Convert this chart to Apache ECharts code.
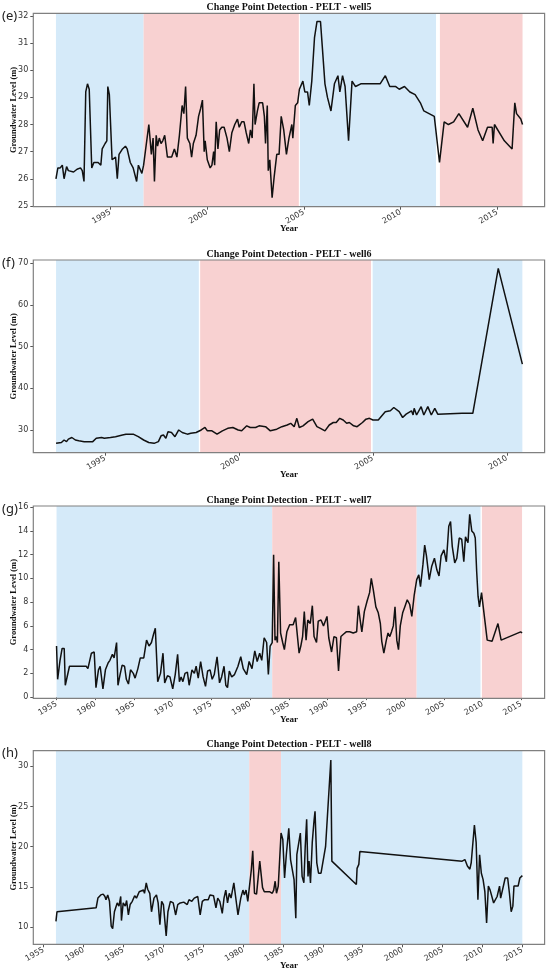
<!DOCTYPE html>
<html>
<head>
<meta charset="utf-8">
<script src="https://cdn.jsdelivr.net/npm/echarts@6/dist/echarts.min.js"></script>
<style>
  html, body { margin: 0; padding: 0; background: #fff; }
  #chart { width: 550px; height: 973px; }
</style>
</head>
<body>
<div id="chart"></div>
<script>
// groundwater level readings [decimal year, level in m]
var well5 = [[1992.19,26.0],[1992.29,26.4],[1992.41,26.4],[1992.52,26.5],[1992.61,26.0],[1992.74,26.45],[1992.83,26.3],[1993.10,26.25],[1993.28,26.35],[1993.46,26.4],[1993.55,26.3],[1993.64,25.9],[1993.73,29.2],[1993.82,29.5],[1993.91,29.3],[1994.04,26.4],[1994.15,26.6],[1994.37,26.6],[1994.51,26.5],[1994.58,27.1],[1994.73,27.3],[1994.82,27.4],[1994.87,29.4],[1994.95,29.1],[1995.09,26.7],[1995.27,26.8],[1995.36,26.0],[1995.45,26.9],[1995.63,27.1],[1995.78,27.2],[1995.87,27.1],[1996.03,26.6],[1996.18,26.4],[1996.36,25.9],[1996.45,26.5],[1996.63,26.2],[1996.72,26.5],
  [1996.99,28.0],[1997.12,26.9],[1997.21,27.5],[1997.28,25.9],[1997.37,27.6],[1997.44,27.2],[1997.53,27.5],[1997.62,27.3],[1997.71,27.4],[1997.81,27.6],[1997.95,26.8],[1998.17,26.8],[1998.31,27.1],[1998.44,26.8],[1998.57,27.6],[1998.71,28.7],[1998.80,28.4],[1998.89,29.4],[1998.98,27.5],[1999.11,27.3],[1999.20,26.8],[1999.29,27.3],[1999.43,27.6],[1999.56,28.3],[1999.67,28.6],[1999.76,28.9],[1999.85,27.0],[1999.90,27.4],[2000.01,26.7],[2000.16,26.4],[2000.25,26.5],[2000.34,27.0],[2000.39,26.5],[2000.47,28.1],[2000.56,27.1],[2000.65,27.8],[2000.76,27.9],[2000.88,27.9],[2001.03,27.5],[2001.15,27.0],[2001.28,27.7],[2001.43,28.0],[2001.57,28.2],[2001.66,27.9],[2001.79,28.1],[2001.91,28.1],[2002.02,27.7],[2002.15,27.3],[2002.24,27.8],[2002.33,27.5],[2002.42,29.5],[2002.48,28.0],[2002.60,28.5],[2002.69,28.8],[2002.87,28.8],[2002.96,28.3],[2003.02,27.3],[2003.11,28.7],[2003.16,26.3],[2003.24,26.7],[2003.36,25.3],[2003.47,26.1],[2003.60,26.9],[2003.72,26.9],[2003.83,28.3],[2003.96,27.8],[2004.10,26.9],[2004.23,27.5],[2004.38,28.0],[2004.43,27.5],[2004.56,28.7],[2004.68,28.8],
  [2004.77,29.3],[2004.86,29.3],[2004.95,29.6],[2005.05,29.2],[2005.19,29.2],[2005.28,28.7],[2005.41,29.6],[2005.55,31.2],[2005.68,31.8],[2005.86,31.8],[2005.95,30.9],[2006.09,29.5],[2006.22,29.0],[2006.40,28.5],[2006.58,29.5],[2006.76,29.8],[2006.86,29.2],[2007.00,29.8],[2007.13,29.4],[2007.31,27.4],[2007.49,29.6],[2007.67,29.4],[2007.94,29.5],[2008.30,29.5],[2008.94,29.5],[2009.21,29.8],[2009.44,29.4],[2009.75,29.4],[2009.93,29.3],[2010.20,29.4],[2010.48,29.2],[2010.75,29.1],[2011.02,28.8],[2011.20,28.5],[2011.47,28.4],[2011.74,28.3],
  [2012.01,26.6],[2012.25,28.1],[2012.47,28.0],[2012.74,28.1],[2013.01,28.4],[2013.46,27.9],[2013.73,28.6],[2014.00,27.8],[2014.24,27.4],[2014.49,27.9],[2014.73,27.9],[2014.78,27.3],[2014.85,28.0],[2015.36,27.4],[2015.76,27.1],[2015.90,28.8],[2015.99,28.4],[2016.21,28.2],[2016.30,28.0]];

var well6 = [[1993.17,26.8],[1993.37,27.0],[1993.47,27.6],[1993.56,27.2],[1993.63,27.8],[1993.69,27.4],[1993.76,28.2],[1993.89,27.6],[1994.02,27.4],[1994.22,27.2],[1994.54,27.2],[1994.67,28.0],[1994.87,28.2],[1994.97,28.0],[1995.04,28.4],[1995.20,28.2],[1995.39,28.4],[1995.65,28.8],[1995.78,29.0],[1996.05,29.0],[1996.24,28.4],[1996.44,27.6],[1996.63,27.0],[1996.83,26.8],[1996.99,27.2],[1997.09,28.6],[1997.18,28.8],[1997.27,28.0],[1997.35,29.6],[1997.48,29.4],[1997.61,28.4],[1997.75,30.0],[1997.88,29.4],[1998.07,29.0],[1998.20,29.2],[1998.40,29.4],
  [1998.59,30.0],[1998.73,30.6],[1998.82,29.8],[1998.99,29.8],[1999.18,29.0],[1999.38,29.8],[1999.58,30.4],[1999.77,30.6],[1999.97,30.0],[2000.10,29.8],[2000.29,31.0],[2000.42,30.6],[2000.62,30.6],[2000.75,31.0],[2000.99,30.8],[2001.17,29.8],[2001.41,30.2],[2001.60,30.8],[2001.80,31.2],[2001.93,31.6],[2002.06,30.8],[2002.16,32.8],[2002.25,30.6],[2002.39,31.0],[2002.58,32.0],[2002.75,32.6],[2002.91,30.8],[2003.04,30.4],[2003.21,29.8],[2003.37,31.2],[2003.52,31.8],[2003.63,31.8],[2003.76,32.8],[2003.89,32.4],[2004.02,31.6],[2004.12,31.8],[2004.28,31.0],[2004.41,30.8],[2004.61,31.8],[2004.74,32.6],[2004.87,32.8],
  [2005.00,32.4],[2005.20,32.4],[2005.46,34.4],[2005.65,34.6],[2005.78,35.4],[2005.98,34.4],[2006.11,33.0],[2006.24,33.8],[2006.44,34.6],[2006.50,33.6],[2006.54,35.2],[2006.63,33.6],[2006.80,35.6],[2006.90,33.6],[2007.05,35.6],[2007.18,33.6],[2007.31,35.2],[2007.42,33.8],[2008.33,34.0],[2008.73,34.0],[2009.68,68.8],[2010.58,45.8]];

var well7 = [[1955.00,4.3],[1955.14,1.5],[1955.45,3.1],[1955.72,4.1],[1955.99,4.1],[1956.13,1.0],[1956.26,1.0],[1956.67,2.6],[1958.83,2.6],[1959.05,2.4],[1959.50,3.7],[1959.86,3.8],[1960.09,0.8],[1960.41,2.3],[1960.63,2.6],[1960.86,2.6],[1960.99,0.7],[1961.31,2.3],[1961.67,2.9],[1961.89,3.1],[1962.21,3.6],[1962.43,3.3],[1962.75,4.6],[1962.93,1.0],[1963.20,1.9],[1963.47,2.7],[1963.78,2.6],[1964.01,1.5],[1964.28,1.1],[1964.55,2.3],[1964.91,2.0],[1965.14,1.6],[1965.50,2.4],[1965.81,3.3],[1966.26,3.3],[1966.62,4.8],[1966.94,4.3],[1967.25,4.6],[1967.52,5.3],[1967.75,5.8],[1968.06,1.3],[1968.42,2.0],[1968.74,3.7],[1968.96,1.2],[1969.32,1.8],[1969.64,1.7],[1970.00,0.7],[1970.32,1.9],[1970.63,3.6],[1970.86,1.3],[1971.08,1.7],[1971.31,1.3],[1971.58,2.0],[1971.89,2.1],[1972.12,1.0],[1972.48,2.3],[1972.79,2.0],[1973.02,2.6],[1973.29,1.6],[1973.60,3.0],[1973.92,1.7],[1974.23,0.9],[1974.50,2.2],[1974.82,2.3],[1975.09,1.5],[1975.36,1.9],[1975.72,3.4],[1976.04,1.2],[1976.31,1.7],[1976.62,2.6],[1976.85,1.0],[1977.07,0.8],[1977.30,2.2],[1977.61,1.7],[1977.97,1.9],[1978.42,2.6],[1978.78,3.4],[1979.10,2.4],[1979.55,1.9],[1979.86,3.0],[1980.23,2.4],[1980.59,3.9],[1980.90,3.0],[1981.22,3.7],[1981.49,3.1],[1981.80,5.0],[1982.12,4.6],[1982.34,1.9],[1982.57,4.3],[1982.84,4.6],
  [1983.02,12.0],[1983.20,4.8],[1983.38,5.1],[1983.51,4.6],[1983.69,11.4],[1983.92,5.4],[1984.19,4.6],[1984.41,4.0],[1984.73,5.5],[1985.09,6.1],[1985.54,6.1],[1985.86,6.7],[1986.08,6.6],[1986.31,3.7],[1986.53,4.3],[1986.76,5.1],[1986.98,7.2],[1987.21,4.8],[1987.43,6.5],[1987.75,6.2],[1988.02,7.7],[1988.24,5.1],[1988.56,4.6],[1988.78,6.4],[1989.14,6.5],[1989.46,6.0],[1989.91,6.8],[1990.14,5.0],[1990.50,3.8],[1990.81,5.1],[1991.13,5.0],[1991.40,2.2],[1991.71,5.1],[1992.03,5.3],[1992.39,5.5],[1992.84,5.5],[1993.29,5.4],[1993.74,5.5],[1993.96,7.7],[1994.19,6.5],[1994.41,5.5],[1994.73,7.2],[1995.09,8.1],[1995.41,8.8],[1995.63,10.0],[1995.90,9.0],[1996.22,7.6],[1996.53,7.1],[1996.80,6.2],[1996.98,4.7],[1997.25,3.7],[1997.57,4.8],[1997.79,5.4],[1998.02,5.1],[1998.24,5.5],[1998.47,6.0],[1998.69,7.6],[1998.92,4.8],[1999.14,4.0],[1999.37,6.0],[1999.68,7.1],[1999.95,7.6],[2000.27,8.2],[2000.59,7.8],[2000.86,6.8],[2001.17,8.6],
  [2001.49,9.9],[2001.76,10.3],[2001.98,9.3],[2002.30,11.2],[2002.52,12.8],[2002.75,11.9],[2003.11,9.9],[2003.42,11.0],[2003.78,11.7],[2004.10,10.7],[2004.37,10.2],[2004.64,11.9],[2005.00,12.4],[2005.32,11.4],[2005.63,14.4],[2005.86,14.8],[2006.08,12.7],[2006.40,11.3],[2006.67,11.7],[2006.98,13.4],[2007.30,13.3],[2007.57,11.4],[2007.79,13.5],[2008.11,13.0],[2008.33,15.4],[2008.60,14.0],[2008.87,13.8],[2009.05,13.4],[2009.23,10.6],[2009.41,8.5],[2009.59,7.6],
  [2009.86,8.8],[2010.09,8.8],[2010.59,4.8],[2011.22,4.7],[2011.98,6.2],[2012.39,4.8],[2014.91,5.5],[2015.09,5.4]];

var well8 = [[1956.54,10.7],[1956.67,11.9],[1961.58,12.4],[1961.80,13.6],[1962.16,14.0],[1962.46,14.1],[1962.68,13.8],[1962.81,13.4],[1963.03,14.0],[1963.25,13.2],[1963.47,10.1],[1963.65,9.8],[1963.87,11.9],[1964.22,13.0],[1964.44,12.6],[1964.66,13.8],[1964.75,10.8],[1964.97,13.0],[1965.23,12.6],[1965.40,13.3],[1965.62,11.5],[1965.84,12.8],[1966.11,13.2],[1966.41,13.9],[1966.63,13.6],[1966.98,14.4],[1967.20,14.2],[1967.51,14.6],[1967.64,14.2],[1967.86,15.5],[1968.04,14.7],[1968.30,14.2],[1968.52,11.9],[1968.83,13.6],[1969.14,14.0],[1969.35,13.0],[1969.57,10.3],[1969.79,13.2],[1970.01,12.8],[1970.23,13.0],[1970.36,8.9],[1970.58,11.9],[1970.89,13.2],[1971.24,13.0],[1971.55,11.5],[1971.81,12.8],[1972.12,13.0],[1972.56,13.1],[1973.00,12.8],[1973.22,13.4],[1973.57,13.2],[1973.88,13.6],[1974.10,13.4],[1974.32,13.8],[1974.62,11.5],[1974.89,13.2],[1975.19,13.4],[1975.63,13.4],[1975.85,14.0],[1976.29,13.9],[1976.60,12.4],[1976.82,13.6],[1977.08,13.2],[1977.39,11.7],[1977.61,13.6],[1977.83,14.6],[1978.05,13.0],[1978.27,14.2],[1978.49,13.6],[1978.84,15.5],[1979.06,13.8],[1979.36,11.5],[1979.71,13.6],[1979.98,14.6],[1980.15,14.0],[1980.37,14.6],[1980.59,13.2],[1980.77,13.2],
  [1981.03,17.1],[1981.21,19.5],[1981.43,14.2],[1981.69,14.1],[1981.91,14.1],[1982.09,18.2],[1982.26,18.2],[1982.44,14.9],[1982.66,14.4],[1982.96,14.4],[1983.31,14.4],[1983.66,14.2],[1983.84,14.6],[1984.02,15.7],[1984.19,14.2],[1984.41,15.1],[1984.63,15.1],
  [1984.76,21.7],[1984.98,20.9],[1985.20,16.1],[1985.42,19.0],[1985.73,22.3],[1985.95,18.4],[1986.17,18.2],[1986.39,15.9],[1986.61,11.1],[1986.74,19.0],[1987.05,20.9],[1987.18,21.7],[1987.40,16.3],[1987.62,15.5],[1987.79,20.0],[1987.97,23.4],[1988.14,16.3],[1988.27,18.2],[1988.45,15.5],[1988.67,20.5],[1988.89,23.2],[1989.02,24.4],[1989.24,18.0],[1989.46,16.7],[1989.77,16.7],[1990.34,20.0],[1991.00,30.8],[1991.13,18.2],[1994.20,15.3],[1994.29,17.3],[1994.51,17.8],[1994.64,19.4],[2007.46,18.2],[2007.81,18.4],[2008.12,17.6],[2008.43,17.2],[2008.60,18.0],[2009.00,22.7],[2009.22,20.5],[2009.44,13.4],[2009.65,19.0],[2009.87,16.7],[2010.09,15.9],[2010.31,14.4],[2010.53,10.5],[2010.75,15.1],[2010.97,14.6],[2011.41,13.0],[2011.85,13.8],[2012.15,15.1],[2012.29,13.6],[2012.51,13.8],[2012.86,16.1],[2013.17,16.1],[2013.39,14.2],[2013.61,11.9],[2013.82,12.6],[2013.96,15.1],[2014.48,15.1],[2014.70,16.1],[2015.01,16.4]];

// change point segments [start, end, segment type]
var well5Spans = [[1992.19,1996.72,'b'],[1996.72,2004.74,'r'],[2004.80,2011.83,'b'],[2012.03,2016.30,'r']];
var well6Spans = [[1993.17,1998.50,'b'],[1998.55,2004.93,'r'],[2004.99,2010.58,'b']];
var well7Spans = [[1955.00,1982.84,'b'],[1982.84,2001.49,'r'],[2001.49,2009.73,'b'],[2009.91,2015.09,'r']];
var well8Spans = [[1956.54,1980.77,'b'],[1980.77,1984.76,'r'],[1984.76,2015.01,'b']];

// tick labels
var well5XTicks = [1995, 2000, 2005, 2010, 2015];
var well6XTicks = [1995, 2000, 2005, 2010];
var longXTicks = [1955, 1960, 1965, 1970, 1975, 1980, 1985, 1990, 1995, 2000, 2005, 2010, 2015];
var well5YTicks = [25, 26, 27, 28, 29, 30, 31, 32];
var well6YTicks = [30, 40, 50, 60, 70];
var well7YTicks = [0, 2, 4, 6, 8, 10, 12, 14, 16];
var well8YTicks = [10, 15, 20, 25, 30];

var titles = ['Change Point Detection - PELT - well5', 'Change Point Detection - PELT - well6',
              'Change Point Detection - PELT - well7', 'Change Point Detection - PELT - well8'];
var panelTags = ['(e)', '(f)', '(g)', '(h)'];

var spanColors = { b: '#d5eaf9', r: '#f8d1d1' };
var serif = 'Liberation Serif, Times New Roman, serif';
var sans = 'DejaVu Sans, sans-serif';

var panels = [
    { data: well5, spans: well5Spans, xTicks: well5XTicks, yTicks: well5YTicks, x: [1991.02, 2017.44], y: [24.97, 32.1], top: 13.3, height: 193.4 },
    { data: well6, spans: well6Spans, xTicks: well6XTicks, yTicks: well6YTicks, x: [1992.32, 2011.41], y: [24.55, 70.8], top: 260, height: 192.7 },
    { data: well7, spans: well7Spans, xTicks: longXTicks, yTicks: well7YTicks, x: [1952.0, 2018.0], y: [-0.1, 16.1], top: 506, height: 192.3 },
    { data: well8, spans: well8Spans, xTicks: longXTicks, yTicks: well8YTicks, x: [1953.7, 2017.8], y: [7.85, 31.95], top: 750.7, height: 193.6 }
];

var chart = echarts.init(document.getElementById('chart'));

var grids = [], xAxes = [], yAxes = [], series = [], titleList = [];

panels.forEach(function(p, i) {
    grids.push({
        left: 33.3, right: 5.4, top: p.top, height: p.height,
        containLabel: false, outerBoundsMode: 'none',
        show: true, z: 10,
        backgroundColor: 'transparent',
        borderColor: '#808080', borderWidth: 1.2
    });
    xAxes.push({
        type: 'value', gridIndex: i, min: p.x[0], max: p.x[1],
        name: 'Year', nameLocation: 'middle', nameGap: 17, nameMoveOverlap: false,
        nameTextStyle: { fontFamily: serif, fontWeight: 'bold', fontSize: 9, color: '#111' },
        axisLine: { show: false },
        axisTick: { show: true, customValues: p.xTicks, length: 3, lineStyle: { color: '#555' } },
        axisLabel: {
            customValues: p.xTicks, rotate: 30, margin: 5,
            fontFamily: sans, fontSize: 8, color: '#333',
            formatter: function(v) { return String(v); }
        },
        splitLine: { show: false }
    });
    yAxes.push({
        type: 'value', gridIndex: i, min: p.y[0], max: p.y[1],
        name: 'Groundwater Level (m)', nameLocation: 'middle', nameGap: 15, nameRotate: 90, nameMoveOverlap: false,
        nameTextStyle: { fontFamily: serif, fontWeight: 'bold', fontSize: 8.5, color: '#111' },
        axisLine: { show: false },
        axisTick: { show: true, customValues: p.yTicks, length: 3, lineStyle: { color: '#555' } },
        axisLabel: {
            customValues: p.yTicks, margin: 5,
            fontFamily: sans, fontSize: 8, color: '#333',
            formatter: function(v) { return String(v); }
        },
        splitLine: { show: false }
    });
    series.push({
        type: 'line', xAxisIndex: i, yAxisIndex: i,
        data: p.data, symbol: 'none', silent: true,
        lineStyle: { color: '#111', width: 1.5 },
        markArea: {
            silent: true,
            data: p.spans.map(function(s) {
                return [{ xAxis: s[0], itemStyle: { color: spanColors[s[2]] } }, { xAxis: s[1] }];
            })
        }
    });
    titleList.push({
        text: titles[i], left: 289, top: p.top - 10.8, textAlign: 'center', padding: 0,
        textStyle: { fontFamily: serif, fontWeight: 'bold', fontSize: 10, color: '#111' }
    });
    titleList.push({
        text: panelTags[i], left: 2, top: p.top - 3.5, padding: 0,
        textStyle: { fontFamily: 'Noto Sans, DejaVu Sans, sans-serif', fontWeight: 'normal', fontSize: 13, color: '#222' }
    });
});

chart.setOption({
    animation: false,
    backgroundColor: '#fff',
    title: titleList,
    grid: grids,
    xAxis: xAxes,
    yAxis: yAxes,
    series: series
});
</script>
</body>
</html>
